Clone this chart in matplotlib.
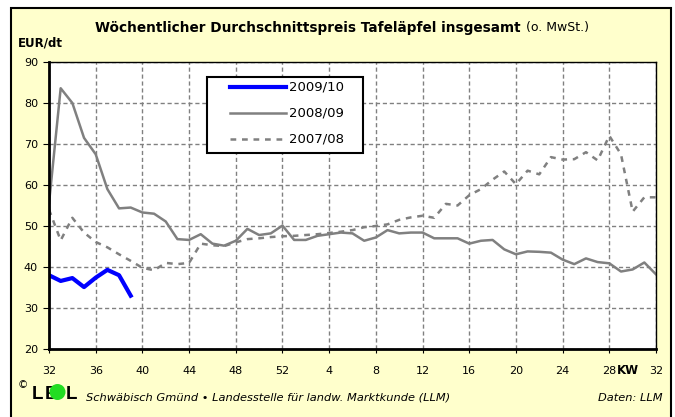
import matplotlib
matplotlib.use("Agg")
import matplotlib.pyplot as plt
import numpy as np
from matplotlib.patches import Rectangle, Ellipse
from matplotlib.lines import Line2D

# week labels along the x axis (marketing year KW 32 .. KW 32)
tick_pos = list(range(0, 53, 4))
tick_labels = ["32", "36", "40", "44", "48", "52", "4", "8", "12", "16", "20", "24", "28", "32"]

# prices in EUR/dt, one value per week starting at KW 32
s_2009_10 = [38.0, 36.6, 37.3, 35.1, 37.4, 39.3, 38.0, 33.0]

s_2008_09 = [55.5, 83.6, 80.0, 71.5, 67.5, 59.0, 54.3, 54.5, 53.3,
             53.0, 51.1, 46.8, 46.6, 48.0, 45.7, 45.2, 46.4, 49.3,
             47.8, 48.2, 50.1, 46.6, 46.6, 47.6, 48.0, 48.4, 48.2,
             46.4, 47.2, 49.0, 48.2, 48.4, 48.4, 47.0, 47.0, 47.0,
             45.7, 46.4, 46.6, 44.3, 43.1, 43.8, 43.7, 43.5, 41.8,
             40.7, 42.1, 41.2, 40.9, 38.9, 39.4, 41.1, 38.2]

s_2007_08 = [54.0, 46.5, 52.0, 48.4, 46.1, 44.8, 43.1, 41.5, 39.8,
             39.2, 41.0, 40.7, 41.0, 45.7, 45.3, 45.1, 46.0, 46.8,
             47.0, 47.3, 47.5, 47.6, 47.8, 48.0, 48.3, 48.6, 49.0,
             49.7, 50.0, 50.4, 51.5, 52.1, 52.5, 52.0, 55.4, 55.0,
             57.5, 59.0, 61.3, 63.3, 60.2, 63.5, 62.6, 66.8, 66.2,
             66.3, 68.0, 66.0, 72.0, 67.5, 53.5, 57.0, 57.0]

series_labels = ["2009/10", "2008/09", "2007/08"]

W, H = 675, 417
fig = plt.figure(figsize=(W / 100, H / 100), dpi=100)
fig.patch.set_facecolor("white")

# cream background frame
frame = Rectangle((11 / W, -0.1), (671 - 11) / W, 1.1 - 8 / H, transform=fig.transFigure,
                  facecolor="#FFFFCC", edgecolor="black", lw=1.5, zorder=-1)
fig.add_artist(frame)

ax = fig.add_axes([49 / W, 1 - 349 / H, (656 - 49) / W, (349 - 62) / H])
ax.set_facecolor("white")

grey = "#808080"
ax.plot(np.arange(len(s_2007_08)), s_2007_08, color=grey, lw=1.8, linestyle=(0, (2.3, 2.3)))
ax.plot(np.arange(len(s_2008_09)), s_2008_09, color=grey, lw=1.8)
ax.plot(np.arange(len(s_2009_10)), s_2009_10, color="#0000FF", lw=3)

ax.set_xlim(0, 52)
ax.set_ylim(20, 90)
ax.set_xticks(tick_pos)
ax.set_xticklabels(tick_labels)
ax.set_yticks(range(20, 91, 10))
ax.tick_params(axis="both", labelsize=8, direction="out", color="black")
ax.tick_params(axis="x", length=3, pad=9)
ax.tick_params(axis="y", length=4, pad=4)
ax.grid(True, color=grey, lw=1.0, linestyle=(0, (3, 2)))

for side in ["left", "bottom"]:
    ax.spines[side].set_linewidth(2)
for side in ["top", "right"]:
    ax.spines[side].set_linewidth(1)

# legend box
ax.add_patch(Rectangle((0.260, 0.683), 0.257, 0.265, transform=ax.transAxes,
                       facecolor="white", edgecolor="black", lw=1.5, zorder=5))
legend_rows = [(0.913, "#0000FF", 3, "-"), (0.822, grey, 1.8, "-"), (0.731, grey, 1.8, (0, (2.3, 2.3)))]
for (ly, col, lw, ls), lab in zip(legend_rows, series_labels):
    ax.add_line(Line2D([0.298, 0.390], [ly, ly], transform=ax.transAxes, color=col, lw=lw,
                       linestyle=ls, zorder=6))
    ax.text(0.396, ly, lab, transform=ax.transAxes, va="center", ha="left", fontsize=9.5, zorder=6)

# title
t1 = fig.text(95 / W, 1 - 28 / H, "Wöchentlicher Durchschnittspreis Tafeläpfel insgesamt",
              fontsize=9.8, fontweight="bold", va="center", ha="left")
fig.canvas.draw()
renderer = fig.canvas.get_renderer()
bb = t1.get_window_extent(renderer=renderer)
fig.text((bb.x1 + 5) / W, 1 - 28 / H, "(o. MwSt.)", fontsize=9, va="center", ha="left")

fig.text(18 / W, 1 - 42.5 / H, "EUR/dt", fontsize=8.5, fontweight="bold", va="center", ha="left")

# "KW" sits on the same row as the x tick labels
lab_bb = ax.get_xticklabels()[0].get_window_extent(renderer=renderer)
fig.text(628 / W, (lab_bb.y0 + lab_bb.y1) / 2 / H, "KW", fontsize=8.5, fontweight="bold",
         va="center", ha="center")

# footer: LEL logo with green dot
fig.text(18 / W, 1 - 385 / H, "©", fontsize=7.5, va="center", ha="left")
logo_font = dict(fontsize=13.5, fontweight="bold", va="baseline", ha="left", family="Liberation Sans")
fig.text(32 / W, 1 - 399 / H, "L", **logo_font)
fig.text(45 / W, 1 - 399 / H, "E", **logo_font)
fig.text(66 / W, 1 - 399 / H, "L", **logo_font)
fig.add_artist(Ellipse((57.5 / W, 1 - 392 / H), 16 / W, 16 / H, transform=fig.transFigure,
                       facecolor="#22DD22", edgecolor="none", zorder=4))
fig.text(86 / W, 1 - 401 / H, "Schwäbisch Gmünd \u2022 Landesstelle für landw. Marktkunde (LLM)",
         fontsize=8.2, style="italic", va="baseline", ha="left")
fig.text(663 / W, 1 - 401 / H, "Daten: LLM", fontsize=8.2, style="italic", va="baseline", ha="right")

fig.savefig("out.png", dpi=100)
